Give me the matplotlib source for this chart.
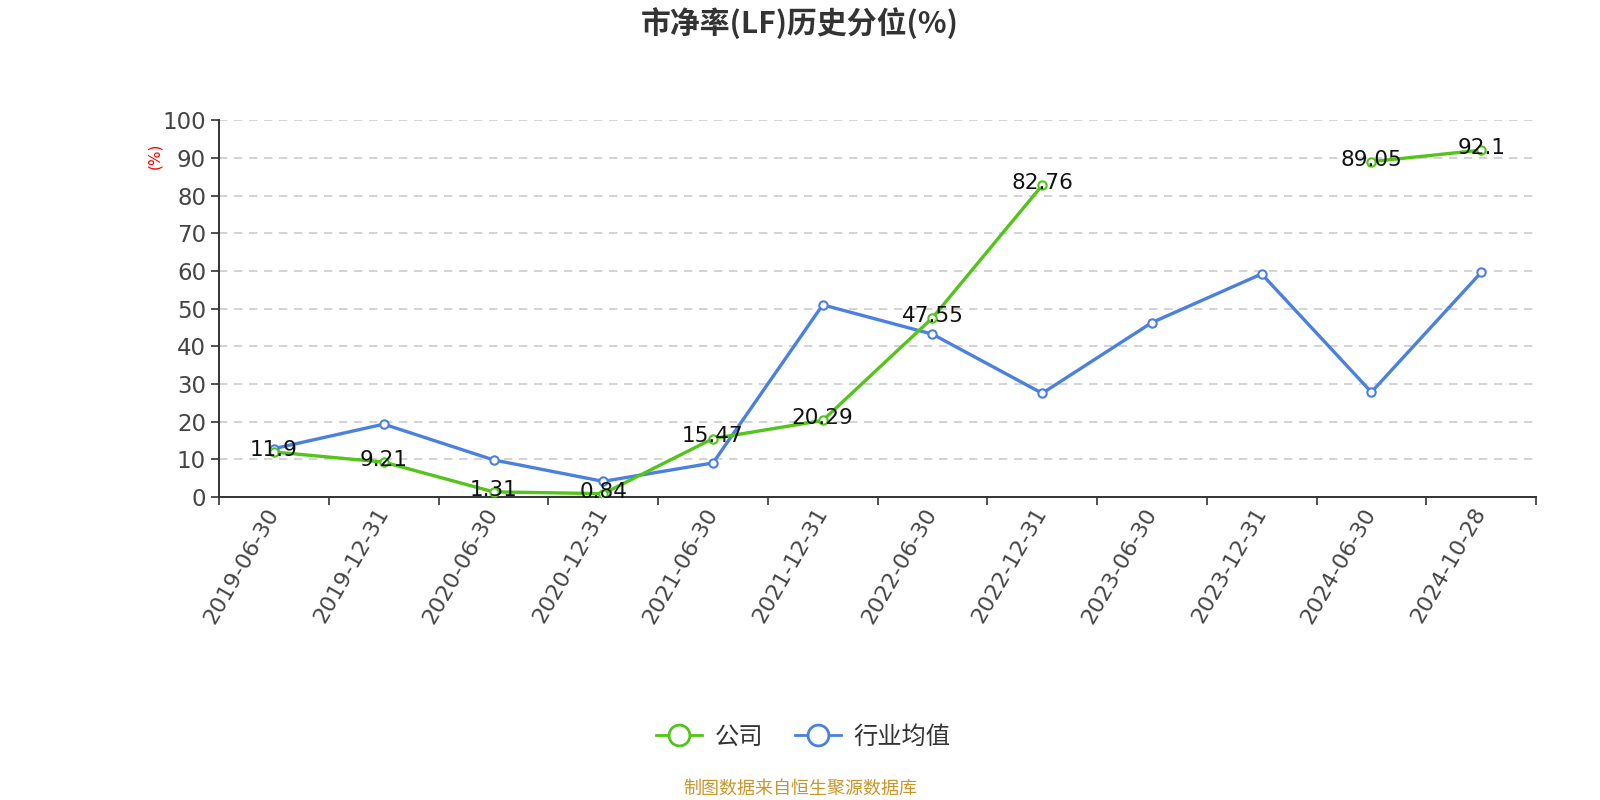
import numpy as np
import matplotlib.pyplot as plt
from matplotlib.lines import Line2D

plt.rcParams['font.family'] = ['DejaVu Sans', 'Noto Sans CJK SC']

# === data ===
dates = ['2019-06-30', '2019-12-31', '2020-06-30', '2020-12-31', '2021-06-30', '2021-12-31',
         '2022-06-30', '2022-12-31', '2023-06-30', '2023-12-31', '2024-06-30', '2024-10-28']
company = [11.9, 9.21, 1.31, 0.84, 15.47, 20.29, 47.55, 82.76, None, None, 89.05, 92.1]
industry = [12.8, 19.3, 9.8, 4.1, 9.0, 51.0, 43.2, 27.5, 46.3, 59.2, 27.8, 59.6]

green = '#52C41A'
blue = '#4A80E0'
cjk = ['Noto Sans CJK SC', 'DejaVu Sans']

fig = plt.figure(figsize=(16, 8), dpi=100)
ax = fig.add_axes([0.137, 0.379, 0.823, 0.4705])

x = np.arange(len(dates))
comp = np.array([np.nan if v is None else v for v in company], dtype=float)

ax.plot(x, industry, color=blue, lw=2.4, marker='o', ms=6, mfc='white', mec=blue, mew=1.5, zorder=3)
ax.plot(x, comp, color=green, lw=2.4, marker='o', ms=6, mfc='white', mec=green, mew=1.5, zorder=4)

for xi, v in zip(x, company):
    if v is None:
        continue
    ax.annotate(f'{v:g}', (xi, v), xytext=(0, 1.5), textcoords='offset points',
                ha='center', va='center', fontsize=15.5, color='#111111', zorder=5)

ax.set_xlim(-0.5, len(dates) - 0.5)
ax.set_ylim(0, 100)
ax.set_yticks(np.arange(0, 101, 10))
ax.tick_params(axis='y', labelsize=16.5, colors='#333333', length=6, width=1.2, labelcolor='#444444')

ax.set_xticks(x)
ax.set_xticklabels(dates, rotation=60, ha='right', va='center', rotation_mode='anchor',
                   fontsize=16, color='#444444')
ax.tick_params(axis='x', which='major', length=0, pad=9)
ax.set_xticks(np.arange(-0.5, len(dates), 1), minor=True)
ax.tick_params(axis='x', which='minor', length=6, width=1.2, color='#333333')

for v in range(10, 101, 10):
    ax.axhline(v, color='#cccccc', lw=1.2, ls=(0, (5, 4)), zorder=1)

for s in ['top', 'right']:
    ax.spines[s].set_visible(False)
for s in ['left', 'bottom']:
    ax.spines[s].set_color('#333333')
    ax.spines[s].set_linewidth(1.4)

fig.text(0.097, 0.805, '(%)', rotation=90, color='red', fontsize=11, ha='center', va='center')

fig.text(0.5, 0.971, '市净率(LF)历史分位(%)', ha='center', va='center', fontsize=21.5,
         fontweight='bold', color='#333333', family=cjk)

handles = [Line2D([0], [0], color=green, lw=2, marker='o', ms=15, mfc='white', mec=green, mew=2),
           Line2D([0], [0], color=blue, lw=2, marker='o', ms=15, mfc='white', mec=blue, mew=2)]
fig.legend(handles, ['公司', '行业均值'], loc='center', bbox_to_anchor=(0.502, 0.079),
           ncol=2, frameon=False, handlelength=1.9, columnspacing=1.3,
           handletextpad=0.5, labelcolor='#333333', prop={'family': cjk, 'size': 17.5})

fig.text(0.5, 0.014, '制图数据来自恒生聚源数据库', ha='center', va='center', fontsize=13,
         color='#C9962B', family=cjk)

fig.savefig('out.png', dpi=100)
